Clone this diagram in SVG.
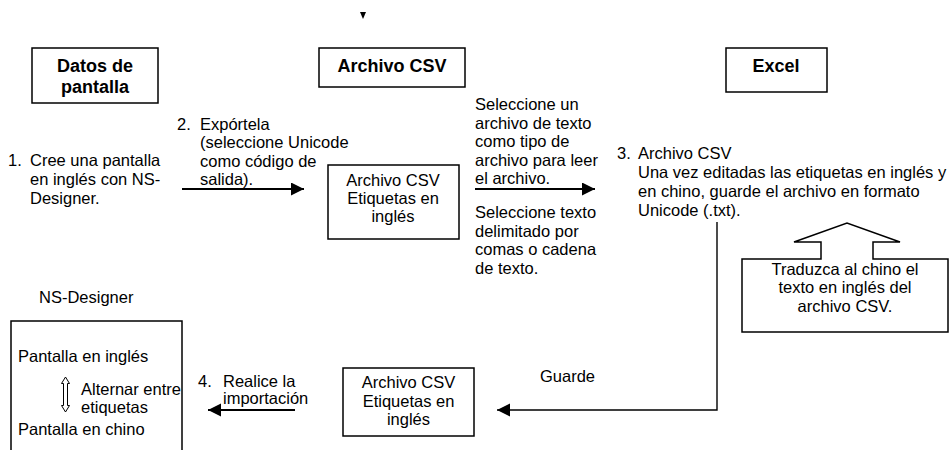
<svg xmlns="http://www.w3.org/2000/svg" width="950" height="450" viewBox="0 0 950 450">
<defs>
<marker id="ah" markerUnits="userSpaceOnUse" markerWidth="14" markerHeight="14" refX="13" refY="6.5" orient="auto">
<path d="M0,0 L13,6.5 L0,13 z" fill="#000"/>
</marker>
<style>
text{font-family:"Liberation Sans",Arial,sans-serif;font-size:16.5px;fill:#000}
.b{font-weight:bold;font-size:18px}
.c{text-anchor:middle}
.box{fill:#fff;stroke:#000;stroke-width:1.5}
.con{fill:none;stroke:#000;stroke-width:1.8}
.thin{fill:none;stroke:#000;stroke-width:1.4}
</style>
</defs>
<rect width="950" height="450" fill="#fff"/>

<g id="top-arrowhead"><polygon points="360,12 366,12 363,19" fill="#000"/></g>

<g id="datos">
<rect class="box" x="32" y="48" width="126" height="55"/>
<text class="b c" x="95" y="72">Datos de</text>
<text class="b c" x="95" y="93">pantalla</text>
</g>

<g id="csv-title">
<rect class="box" x="319" y="48" width="146" height="39"/>
<text class="b c" x="392" y="72">Archivo CSV</text>
</g>

<g id="excel">
<rect class="box" x="726" y="48" width="101" height="44"/>
<text class="b c" x="776" y="72">Excel</text>
</g>

<g id="step1">
<text x="8" y="166">1.</text>
<text x="30" y="166">Cree una pantalla</text>
<text x="30" y="185">en inglés con NS-</text>
<text x="30" y="204">Designer.</text>
</g>

<g id="step2">
<text x="177" y="130">2.</text>
<text x="200" y="130">Expórtela</text>
<text x="200" y="148">(seleccione Unicode</text>
<text x="200" y="167">como código de</text>
<text x="200" y="185">salida).</text>
</g>

<g id="csv-mid">
<rect class="box" x="328" y="165" width="131" height="74"/>
<text class="c" x="393" y="186">Archivo CSV</text>
<text class="c" x="393" y="204">Etiquetas en</text>
<text class="c" x="393" y="222">inglés</text>
</g>

<g id="select-text">
<text x="475" y="110">Seleccione un</text>
<text x="475" y="128.5">archivo de texto</text>
<text x="475" y="147">como tipo de</text>
<text x="475" y="165.5">archivo para leer</text>
<text x="475" y="184">el archivo.</text>
<text x="475" y="218">Seleccione texto</text>
<text x="475" y="236.5">delimitado por</text>
<text x="475" y="255">comas o cadena</text>
<text x="475" y="273.5">de texto.</text>
</g>

<g id="step3">
<text x="617" y="159">3.</text>
<text x="638" y="159">Archivo CSV</text>
<text x="638" y="178">Una vez editadas las etiquetas en inglés y</text>
<text x="638" y="197">en chino, guarde el archivo en formato</text>
<text x="638" y="216">Unicode (.txt).</text>
</g>

<g id="translate">
<polygon class="box" points="742,259 821,259 821,242 794,242 847,223 900,242 873,242 873,259 948,259 948,332 742,332"/>
<text class="c" x="845" y="275">Traduzca al chino el</text>
<text class="c" x="845" y="293">texto en inglés del</text>
<text class="c" x="845" y="312">archivo CSV.</text>
</g>

<g id="csv-bottom">
<rect class="box" x="343" y="368" width="131" height="68"/>
<text class="c" x="408.5" y="388">Archivo CSV</text>
<text class="c" x="408.5" y="407">Etiquetas en</text>
<text class="c" x="408.5" y="425">inglés</text>
</g>

<g id="guarde-label"><text x="540" y="382">Guarde</text></g>

<g id="step4">
<text x="198" y="387">4.</text>
<text x="223" y="387">Realice la</text>
<text x="223" y="404">importación</text>
</g>

<g id="nsdesigner">
<text x="39" y="303">NS-Designer</text>
<rect class="box" x="11" y="321" width="171" height="140"/>
<text x="18" y="362">Pantalla en inglés</text>
<polygon points="65.5,377 61.5,383.5 63.5,383.5 63.5,405.5 61.5,405.5 65.5,412 69.5,405.5 67.5,405.5 67.5,383.5 69.5,383.5" fill="#fff" stroke="#000" stroke-width="1"/>
<text x="81" y="395">Alternar entre</text>
<text x="81" y="413">etiquetas</text>
<text x="18" y="435">Pantalla en chino</text>
</g>

<g id="connectors">
<line class="con" x1="182" y1="189" x2="304" y2="189" marker-end="url(#ah)"/>
<line class="con" x1="475" y1="189" x2="595" y2="189" marker-end="url(#ah)"/>
<polyline class="thin" points="717,222 717,410 497,410" marker-end="url(#ah)"/>
<line class="con" x1="295" y1="410" x2="208" y2="410" marker-end="url(#ah)"/>
</g>
</svg>
